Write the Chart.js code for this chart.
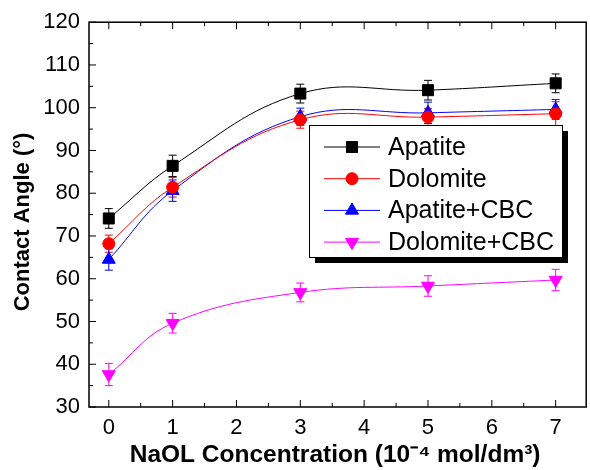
<!DOCTYPE html>
<html>
<head>
    <title>Contact Angle vs NaOL Concentration</title>
    <script src="https://cdn.jsdelivr.net/npm/chart.js@4.4.0/dist/chart.umd.min.js"></script>
    <style>
        body { margin: 0; background: #fff; }
        #wrap { width: 590px; height: 470px; position: relative; }
    </style>
</head>
<body>
    <div id="wrap"><canvas id="angleChart"></canvas></div>

    <script>
        // NaOL concentration (10^-4 mol/dm3)
        const concentrations = [0, 1, 3, 5, 7];
        const xTicks = [0, 1, 2, 3, 4, 5, 6, 7];
        const yTicks = [30, 40, 50, 60, 70, 80, 90, 100, 110, 120];

        // contact angle (degrees) and error bars
        const apatite = [74.1, 86.4, 103.3, 104.1, 105.7];
        const apatiteErr = [2.3, 2.5, 2.2, 2.3, 2.2];
        const dolomite = [68.2, 81.4, 97.2, 97.8, 98.6];
        const dolomiteErr = [2.0, 2.3, 2.0, 2.0, 2.8];
        const apatiteCbc = [64.5, 80.6, 97.9, 98.8, 99.6];
        const apatiteCbcErr = [2.5, 2.5, 2.0, 2.5, 2.3];
        const dolomiteCbc = [37.6, 49.6, 56.8, 58.3, 59.7];
        const dolomiteCbcErr = [2.6, 2.3, 2.2, 2.4, 2.5];

        const series = [
            { label: 'Apatite', data: apatite, err: apatiteErr, color: '#000000', style: 'rect', radius: 7.8, rotation: 0 },
            { label: 'Dolomite', data: dolomite, err: dolomiteErr, color: '#ff0000', style: 'circle', radius: 6, rotation: 0 },
            { label: 'Apatite+CBC', data: apatiteCbc, err: apatiteCbcErr, color: '#0000ff', style: 'triangle', radius: 7.5, rotation: 0 },
            { label: 'Dolomite+CBC', data: dolomiteCbc, err: dolomiteCbcErr, color: '#ff00ff', style: 'triangle', radius: 7.5, rotation: 180 }
        ];

        const font = '"Liberation Sans", Arial, sans-serif';

        // error bars drawn under the markers
        const errorBars = {
            id: 'errorBars',
            beforeDatasetsDraw(chart) {
                const ctx = chart.ctx;
                const xs = chart.scales.x, ys = chart.scales.y;
                ctx.save();
                ctx.lineWidth = 1;
                chart.data.datasets.forEach(ds => {
                    ctx.strokeStyle = ds.borderColor;
                    ds.data.forEach((p, i) => {
                        const x = xs.getPixelForValue(p.x);
                        const top = ys.getPixelForValue(p.y + ds.err[i]);
                        const bot = ys.getPixelForValue(p.y - ds.err[i]);
                        ctx.beginPath();
                        ctx.moveTo(x, top); ctx.lineTo(x, bot);
                        ctx.moveTo(x - 4, top); ctx.lineTo(x + 4, top);
                        ctx.moveTo(x - 4, bot); ctx.lineTo(x + 4, bot);
                        ctx.stroke();
                    });
                });
                ctx.restore();
            }
        };

        // frame with inward ticks, plus the y axis title
        const frame = {
            id: 'frame',
            afterDraw(chart) {
                const ctx = chart.ctx;
                const a = chart.chartArea;
                const xs = chart.scales.x, ys = chart.scales.y;
                ctx.save();
                ctx.strokeStyle = '#000';
                ctx.lineWidth = 1.5;
                ctx.strokeRect(a.left, a.top, a.right - a.left + 5, a.bottom - a.top);
                ctx.lineWidth = 1;
                ctx.beginPath();
                for (let v = 0; v <= 7; v += 0.5) {
                    const x = xs.getPixelForValue(v);
                    const len = Number.isInteger(v) ? 7 : 4;
                    ctx.moveTo(x, a.bottom); ctx.lineTo(x, a.bottom - len);
                    ctx.moveTo(x, a.top); ctx.lineTo(x, a.top + len);
                }
                for (let v = 30; v <= 120; v += 5) {
                    const y = ys.getPixelForValue(v);
                    const len = v % 10 === 0 ? 7 : 4;
                    ctx.moveTo(a.left, y); ctx.lineTo(a.left + len, y);
                }
                ctx.stroke();

                // y title
                ctx.translate(23, 222);
                ctx.rotate(-Math.PI / 2);
                ctx.font = 'bold 22px ' + font;
                ctx.fillStyle = '#000';
                ctx.textAlign = 'center';
                ctx.textBaseline = 'middle';
                ctx.fillText('Contact Angle (\u00B0)', 0, 0);
                ctx.restore();
            }
        };

        // legend box with drop shadow inside the plot
        const boxLegend = {
            id: 'boxLegend',
            afterDraw(chart) {
                const ctx = chart.ctx;
                const left = 309, top = 125, w = 253, h = 132;
                ctx.save();
                ctx.fillStyle = '#000';
                ctx.fillRect(left + 6, top + 6, w, h);
                ctx.fillStyle = '#fff';
                ctx.fillRect(left, top, w, h);
                ctx.strokeStyle = '#000';
                ctx.lineWidth = 1;
                ctx.strokeRect(left + 0.5, top + 0.5, w, h);
                ctx.font = '25px ' + font;
                ctx.textBaseline = 'middle';
                series.forEach((s, i) => {
                    const y = top + 22 + i * 31.7;
                    ctx.strokeStyle = s.color;
                    ctx.beginPath();
                    ctx.moveTo(324, y); ctx.lineTo(380, y);
                    ctx.stroke();
                    ctx.fillStyle = s.color;
                    Chart.helpers.drawPoint(ctx, {
                        pointStyle: s.style, radius: s.radius, rotation: s.rotation, borderWidth: 1
                    }, 352, y);
                    ctx.fillStyle = '#000';
                    ctx.fillText(s.label, 388, y + 1);
                });
                ctx.restore();
            }
        };

        new Chart(document.getElementById('angleChart'), {
            type: 'line',
            data: {
                datasets: series.map(s => ({
                    label: s.label,
                    data: concentrations.map((c, i) => ({ x: c, y: s.data[i] })),
                    err: s.err,
                    borderColor: s.color,
                    backgroundColor: s.color,
                    borderWidth: 1,
                    tension: 0.4,
                    pointStyle: s.style,
                    pointRadius: s.radius,
                    pointRotation: s.rotation,
                    pointBorderWidth: 1
                }))
            },
            options: {
                responsive: true,
                maintainAspectRatio: false,
                animation: false,
                layout: { padding: { top: 22, right: 0, left: 0, bottom: 0 } },
                plugins: {
                    legend: { display: false },
                    tooltip: { enabled: false }
                },
                scales: {
                    x: {
                        type: 'linear',
                        min: -0.31,
                        max: 7.4,
                        afterBuildTicks: scale => { scale.ticks = xTicks.map(v => ({ value: v })); },
                        afterFit: scale => { scale.height = 63; },
                        grid: { display: false, drawTicks: false },
                        border: { display: false },
                        ticks: {
                            padding: 8,
                            color: '#000',
                            font: { family: font, size: 22 },
                            maxRotation: 0
                        },
                        title: {
                            display: true,
                            text: 'NaOL Concentration (10\u207B\u2074 mol/dm\u00B3)',
                            color: '#000',
                            font: { family: font, size: 24.5, weight: 'bold' },
                            padding: { top: 1, bottom: 0 }
                        }
                    },
                    y: {
                        min: 30,
                        max: 120,
                        afterBuildTicks: scale => { scale.ticks = yTicks.map(v => ({ value: v })); },
                        afterFit: scale => { scale.width = 89; },
                        grid: { display: false, drawTicks: false },
                        border: { display: false },
                        ticks: {
                            padding: 9,
                            color: '#000',
                            font: { family: font, size: 22 }
                        }
                    }
                }
            },
            plugins: [errorBars, frame, boxLegend]
        });
    </script>
</body>
</html>
